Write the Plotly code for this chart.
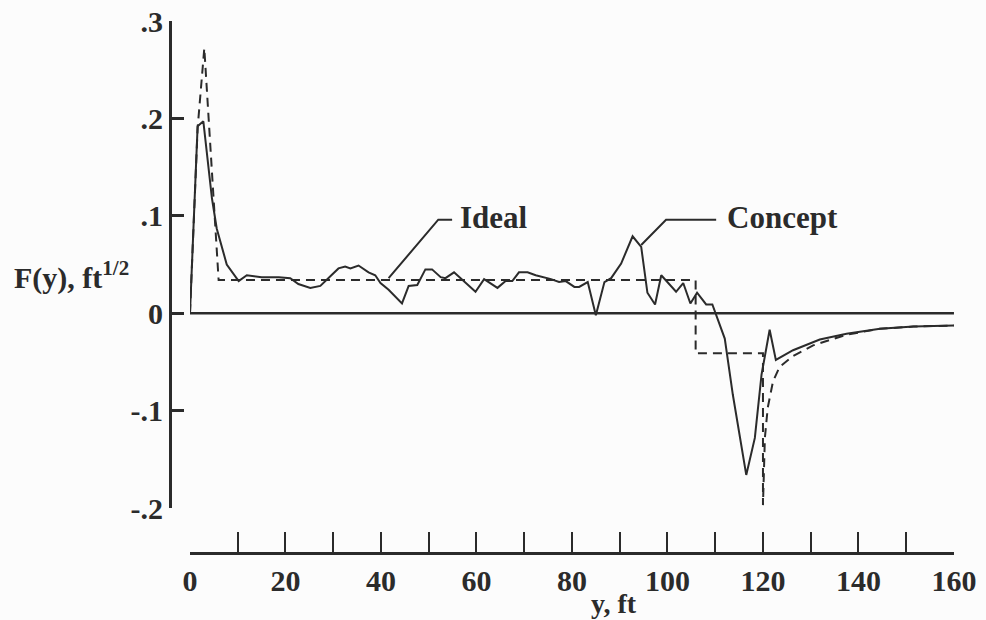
import plotly.graph_objects as go

# ---- data ----
concept_x = [0, 1.6, 2.8, 4.6, 5.6, 7.7, 10.2, 11.9, 15.0, 18.6, 21.0, 22.7, 25.2, 27.3,
             29.4, 31.1, 32.5, 33.6, 35.3, 37.4, 38.8, 39.9, 41.6, 44.4, 45.8, 47.6, 49.3,
             50.7, 52.5, 53.5, 55.3, 57.7, 59.8, 61.6, 64.4, 66.1, 67.5, 68.9, 70.7, 72.4,
             75.6, 77.3, 78.7, 80.5, 81.5, 83.3, 85.0, 86.8, 88.2, 90.3, 92.7, 94.5, 95.8,
             97.4, 98.7, 101.8, 103.3, 104.8, 106.2, 108.1, 109.4, 112.0, 113.7, 116.5,
             118.3, 119.7, 121.4, 122.7, 126.3, 131.9, 137.5, 144.5, 151.5, 160.0]
concept_y = [0.0, 0.192, 0.197, 0.118, 0.087, 0.050, 0.033, 0.039, 0.037, 0.037, 0.036, 0.030,
             0.026, 0.028, 0.038, 0.046, 0.048, 0.046, 0.049, 0.042, 0.039, 0.031, 0.024,
             0.010, 0.028, 0.029, 0.045, 0.045, 0.037, 0.036, 0.042, 0.031, 0.022, 0.035,
             0.026, 0.033, 0.033, 0.042, 0.042, 0.039, 0.035, 0.032, 0.033, 0.027, 0.027,
             0.032, -0.002, 0.032, 0.036, 0.051, 0.079, 0.068, 0.021, 0.009, 0.039, 0.022,
             0.031, 0.010, 0.021, 0.009, 0.009, -0.026, -0.084, -0.166, -0.128, -0.063,
             -0.017, -0.048, -0.038, -0.027, -0.021, -0.016, -0.0137, -0.0127]

ideal_x = [0, 1.6, 3.0, 6.0, 105.9, 105.9, 120.0, 120.0, 120.4, 121.0, 122.1, 123.5,
           126.3, 130.5, 137.5, 144.5, 151.5, 160.0]
ideal_y = [0.0, 0.19, 0.272, 0.034, 0.034, -0.041, -0.041, -0.197, -0.128, -0.097, -0.070,
           -0.055, -0.044, -0.033, -0.022, -0.016, -0.0137, -0.0127]

zero_x = [0, 160]
zero_y = [0, 0]

ideal_leader_x = [41.6, 52.0, 54.9]
ideal_leader_y = [0.036, 0.096, 0.096]
concept_leader_x = [94.5, 99.7, 110.2]
concept_leader_y = [0.070, 0.096, 0.096]

x_tick_vals = list(range(0, 161, 20))
x_tick_text = [str(v) for v in x_tick_vals]
x_minor_step = 10
y_tick_vals = [0.3, 0.2, 0.1, 0.0, -0.1, -0.2]
y_tick_text = [".3", ".2", ".1", "0", "-.1", "-.2"]

ink = "#2b2b2b"
bg = "#fcfcfc"
serif = "Liberation Serif, Times New Roman, serif"

fig = go.Figure()
fig.add_trace(go.Scatter(x=zero_x, y=zero_y, mode="lines",
                         line=dict(color=ink, width=2.5), hoverinfo="skip"))
fig.add_trace(go.Scatter(x=ideal_x, y=ideal_y, mode="lines", name="Ideal",
                         line=dict(color=ink, width=2, dash="9px,6px")))
fig.add_trace(go.Scatter(x=concept_x, y=concept_y, mode="lines", name="Concept",
                         line=dict(color=ink, width=2)))
fig.add_trace(go.Scatter(x=ideal_leader_x, y=ideal_leader_y, mode="lines",
                         line=dict(color=ink, width=2), hoverinfo="skip"))
fig.add_trace(go.Scatter(x=concept_leader_x, y=concept_leader_y, mode="lines",
                         line=dict(color=ink, width=2), hoverinfo="skip"))

tickfont = dict(family=serif, size=30, color=ink, weight="bold")

fig.update_layout(
    width=986, height=620,
    margin=dict(l=100, r=20, t=10, b=60, autoexpand=False),
    paper_bgcolor=bg, plot_bgcolor=bg,
    showlegend=False,
    xaxis=dict(domain=[0.1039, 0.9861], range=[0, 160], anchor="free", position=0.0127,
               automargin=False,
               showline=True, linewidth=3, linecolor=ink,
               ticks="inside", ticklen=20, tickwidth=2, tickcolor=ink,
               tickmode="array", tickvals=x_tick_vals, ticktext=x_tick_text,
               ticklabelstandoff=0,
               minor=dict(ticks="inside", ticklen=20, tickwidth=2, tickcolor=ink,
                          tick0=0, dtick=x_minor_step, showgrid=False),
               showgrid=False, zeroline=False, tickfont=tickfont),
    yaxis=dict(domain=[0.0945, 0.98], range=[-0.2, 0.3], anchor="free", position=0.0808,
               automargin=False,
               showline=True, linewidth=3, linecolor=ink,
               ticks="inside", ticklen=12, tickwidth=2.5, tickcolor=ink,
               tickmode="array", tickvals=y_tick_vals, ticktext=y_tick_text,
               showgrid=False, zeroline=False, tickfont=tickfont),
    annotations=[
        dict(text="F(y), ft<sup>1/2</sup>", xref="paper", yref="paper", x=-0.1016, y=0.518,
             xanchor="left", yanchor="middle", showarrow=False,
             font=dict(family=serif, size=30, color=ink, weight="bold")),
        dict(text="y, ft", xref="paper", yref="paper", x=0.594, y=-0.079,
             xanchor="center", yanchor="middle", showarrow=False,
             font=dict(family=serif, size=28, color=ink, weight="bold")),
        dict(text="Ideal", xref="x", yref="y", x=56.1, y=0.098,
             xanchor="left", yanchor="middle", showarrow=False,
             font=dict(family=serif, size=31, color=ink, weight="bold")),
        dict(text="Concept", xref="x", yref="y", x=112.0, y=0.098,
             xanchor="left", yanchor="middle", showarrow=False,
             font=dict(family=serif, size=31, color=ink, weight="bold")),
    ],
)

fig.write_html("out.html")
